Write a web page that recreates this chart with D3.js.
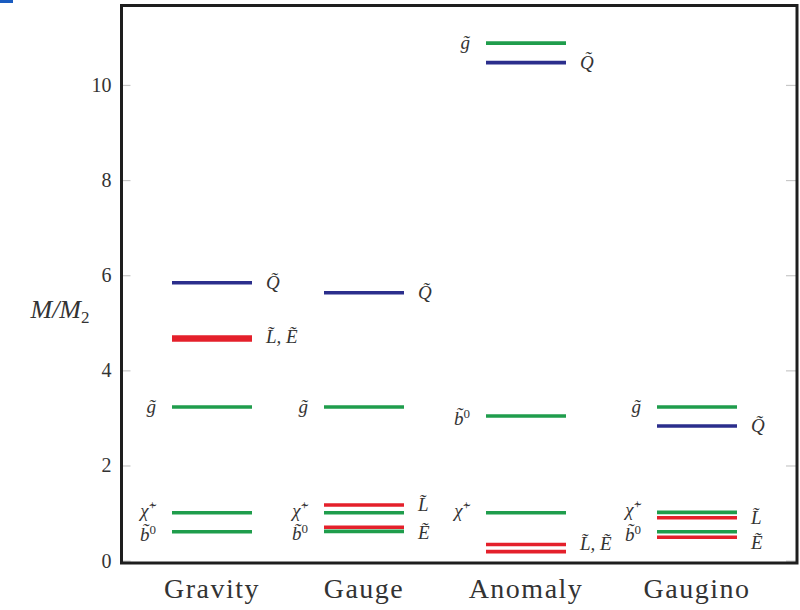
<!DOCTYPE html>
<html>
<head>
<meta charset="utf-8">
<script src="https://cdn.jsdelivr.net/npm/d3@7"></script>
<style>
  html, body { margin: 0; padding: 0; background: #fff; }
  svg { display: block; }
</style>
</head>
<body>
<script>
// ---- data ----
const models = ["Gravity", "Gauge", "Anomaly", "Gaugino"];
const yTicks = [0, 2, 4, 6, 8, 10];
const gluino   = [3.23, 3.23, 10.88, 3.23];
const squark   = [5.84, 5.63, 10.47, 2.83];
const sleptonL = [4.70, 1.17, 0.34, 0.90];
const sleptonE = [4.64, 0.70, 0.19, 0.49];
const chargino = [1.005, 1.005, 1.005, 1.015];
const bino     = [0.606, 0.614, 3.04, 0.606];
const sleptonLLabels = ["L\u0303, E\u0303", "L\u0303", "L\u0303, E\u0303", "L\u0303"];
const sleptonELabels = ["", "E\u0303", "", "E\u0303"];

// ---- layout ----
const W = 800, H = 610;
const frame = {left: 121.5, right: 797, top: 5.5, bottom: 563};
const colors = {green: "#1f9d4c", red: "#e4202b", blue: "#2b2e8c"};
const serif = "'Liberation Serif', 'DejaVu Serif', serif";

const svg = d3.select("body").append("svg").attr("width", W).attr("height", H);

const y = d3.scaleLinear().domain([-0.05, 11.67]).range([frame.bottom, frame.top]);
const x = d3.scaleOrdinal().domain(models).range([212, 364, 526, 697]);
const halfLen = 40;

// small blue mark top-left
svg.append("rect").attr("x", 0).attr("y", 0).attr("width", 13).attr("height", 3).attr("fill", "#1a5cc0");

// axes
const yAxisL = d3.axisLeft(y).tickValues(yTicks).tickSizeInner(-9).tickSizeOuter(0).tickPadding(10)
  .tickFormat(d3.format("d"));
const gL = svg.append("g").attr("transform", `translate(${frame.left},0)`).call(yAxisL);
gL.select(".domain").remove();
gL.selectAll(".tick line").attr("stroke", "#c8c8c8").attr("stroke-width", 1.2);
gL.selectAll(".tick text").attr("font-family", serif).attr("font-size", 20).attr("fill", "#333");

const yAxisR = d3.axisRight(y).tickValues(yTicks).tickSizeInner(-11).tickSizeOuter(0).tickFormat("");
const gR = svg.append("g").attr("transform", `translate(${frame.right},0)`).call(yAxisR);
gR.select(".domain").remove();
gR.selectAll(".tick line").attr("stroke", "#c8c8c8").attr("stroke-width", 1.2);

// series
const series = [
  {vals: gluino,   color: colors.green, side: "left",  labels: models.map(() => ["g\u0303", ""])},
  {vals: chargino, color: colors.green, side: "left",  labels: models.map(() => ["\u03c7\u0303", "+"]), nudge: -2},
  {vals: bino,     color: colors.green, side: "left",  labels: models.map(() => ["b\u0303", "0"]), nudge: 3},
  {vals: sleptonL, color: colors.red,   side: "right", labels: sleptonLLabels.map(s => [s, ""])},
  {vals: sleptonE, color: colors.red,   side: "right", labels: sleptonELabels.map(s => [s, ""]), nudge: 6},
  {vals: squark,   color: colors.blue,  side: "right", labels: models.map(() => ["Q\u0303", ""])}
];

const levelG = svg.append("g");
series.forEach(s => {
  const rows = models.map((m, i) => ({m, v: s.vals[i], lab: s.labels[i]}));
  levelG.selectAll(null).data(rows).enter().append("line")
    .attr("x1", d => x(d.m) - halfLen).attr("x2", d => x(d.m) + halfLen)
    .attr("y1", d => y(d.v)).attr("y2", d => y(d.v))
    .attr("stroke", s.color).attr("stroke-width", 3.6);
  const t = levelG.selectAll(null).data(rows.filter(d => d.lab[0])).enter().append("text")
    .attr("x", d => s.side === "left" ? x(d.m) - halfLen - 16 : x(d.m) + halfLen + 14)
    .attr("y", d => y(d.v) + 6 + (s.nudge || 0))
    .attr("text-anchor", s.side === "left" ? "end" : "start")
    .attr("font-family", serif).attr("font-style", "italic").attr("font-size", 19).attr("fill", "#333");
  t.append("tspan").text(d => d.lab[0]);
  t.filter(d => d.lab[1]).append("tspan").attr("dy", -7).attr("font-size", 13)
    .attr("font-style", "normal").text(d => d.lab[1]);
});

// frame
svg.append("rect").attr("x", frame.left).attr("y", frame.top)
  .attr("width", frame.right - frame.left).attr("height", frame.bottom - frame.top)
  .attr("fill", "none").attr("stroke", "#1e1e1e").attr("stroke-width", 3);

// category labels
svg.append("g").selectAll("text").data(models).enter().append("text")
  .attr("x", d => x(d)).attr("y", 598).attr("text-anchor", "middle")
  .attr("font-family", serif).attr("font-size", 28).attr("letter-spacing", 1.5).attr("fill", "#333")
  .text(d => d);

// y label
const yl = svg.append("text").attr("x", 60).attr("y", 318).attr("text-anchor", "middle")
  .attr("font-family", serif).attr("font-size", 26).attr("fill", "#333");
yl.append("tspan").attr("font-style", "italic").text("M/M");
yl.append("tspan").attr("font-size", 17).attr("dy", 5).text("2");
</script>
</body>
</html>
